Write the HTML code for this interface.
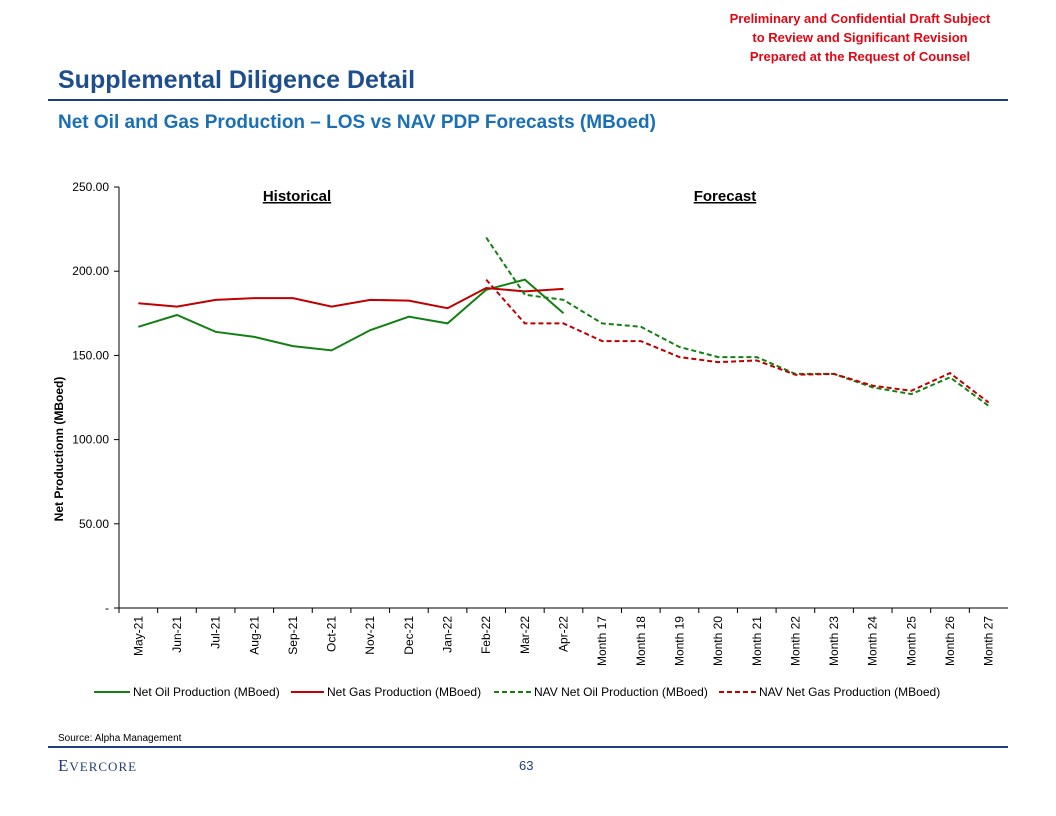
<!DOCTYPE html>
<html><head><meta charset="utf-8"><style>
body{margin:0;width:1056px;height:816px;background:#fff;font-family:"Liberation Sans",Arial,sans-serif;position:relative;overflow:hidden}
.conf{position:absolute;right:46px;top:9px;width:300px;text-align:center;color:#e30613;font-weight:bold;font-size:13px;line-height:19px}
.title{position:absolute;left:58px;top:66px;font-size:25px;font-weight:bold;color:#1f4e8c}
.sub{position:absolute;left:58px;top:112px;font-size:19px;font-weight:bold;color:#1a6fb5}
.rule{position:absolute;left:48px;width:960px;background:#1f3f7a}
</style></head><body>
<div class="conf">Preliminary and Confidential Draft Subject<br>to Review and Significant Revision<br>Prepared at the Request of Counsel</div>
<div class="title">Supplemental Diligence Detail</div>
<div class="rule" style="top:99px;height:2px"></div>
<div class="sub">Net Oil and Gas Production – LOS vs NAV PDP Forecasts (MBoed)</div>
<svg id="chart" width="1056" height="816" style="position:absolute;left:0;top:0"></svg>
<div style="position:absolute;left:58px;top:733px;font-size:10px">Source: Alpha Management</div>
<div class="rule" style="top:746px;height:2px"></div>
<div style="position:absolute;left:58px;top:756px;font-family:'Liberation Serif',serif;font-size:17px;color:#1f3f7a;letter-spacing:1px">E<span style="font-size:13px">VERCORE</span></div>
<div style="position:absolute;left:519px;top:758px;font-size:13px;color:#1f3f7a">63</div>
<script>
const categories=["May-21","Jun-21","Jul-21","Aug-21","Sep-21","Oct-21","Nov-21","Dec-21","Jan-22","Feb-22","Mar-22","Apr-22","Month 17","Month 18","Month 19","Month 20","Month 21","Month 22","Month 23","Month 24","Month 25","Month 26","Month 27"];
const oil=[167,174,164,161,155.5,153,165,173,169,189,195,175];
const gas=[181,179,183,184,184,179,183,182.5,178,190,188,189.5];
const navOil=[null,null,null,null,null,null,null,null,null,220,186,183,169,167,155,149,149,139,139,131,127,137,120];
const navGas=[null,null,null,null,null,null,null,null,null,195,169,169,158.5,158.5,149,146,147,138.5,139,132,129,139.5,122];
const yTicks=[0,50,100,150,200,250];
const yTickLabels=["-","50.00","100.00","150.00","200.00","250.00"];
const seriesNames=["Net Oil Production (MBoed)","Net Gas Production (MBoed)","NAV Net Oil Production (MBoed)","NAV Net Gas Production (MBoed)"];
const NS="http://www.w3.org/2000/svg",svg=document.getElementById('chart');
const L=119,R=1008,T=187,B=608,bw=(R-L)/categories.length;
const x=i=>L+bw*(i+0.5), y=v=>B-(v/250)*(B-T);
function mk(t,a,p){const e=document.createElementNS(NS,t);for(const k in a)e.setAttribute(k,a[k]);(p||svg).appendChild(e);return e;}
let e=mk('line',{x1:L,y1:T,x2:L,y2:B,stroke:'#000'});

e=mk('line',{x1:L,y1:B,x2:R,y2:B,stroke:'#000'});

yTicks.forEach((v,i)=>{mk('line',{x1:L-5,y1:y(v),x2:L,y2:y(v),stroke:'#000'});
 const t=mk('text',{x:L-10,y:y(v)+4,'text-anchor':'end','font-size':12});t.textContent=yTickLabels[i];
 });
categories.forEach((c,i)=>{mk('line',{x1:L+bw*i,y1:B,x2:L+bw*i,y2:B+5,stroke:'#000'});
 const t=mk('text',{x:0,y:0,'text-anchor':'end','font-size':12,transform:`translate(${x(i)+4},${B+8}) rotate(-90)`});t.textContent=c;
 });
e=mk('text',{x:0,y:0,'text-anchor':'middle','font-size':12,'font-weight':'bold',transform:`translate(63,449) rotate(-90)`});e.textContent="Net Productionn (MBoed)";

e=mk('text',{x:297,y:201,'text-anchor':'middle','font-size':15,'font-weight':'bold','text-decoration':'underline'});e.textContent="Historical";

e=mk('text',{x:725,y:201,'text-anchor':'middle','font-size':15,'font-weight':'bold','text-decoration':'underline'});e.textContent="Forecast";

function path(arr){let d='';arr.forEach((v,i)=>{if(v==null)return;d+=(d?'L':'M')+x(i)+','+y(v);});return d;}
const styles=[[oil,'#138013',''],[gas,'#c00000',''],[navOil,'#138013','5,3'],[navGas,'#c00000','5,3']];
const names=['oil-line','gas-line','nav-oil-line','nav-gas-line'];
styles.forEach((s,k)=>{const p=mk('path',{d:path(s[0]),fill:'none',stroke:s[1],'stroke-width':2,'stroke-dasharray':s[2]});
 });
const lx1=[94,291,494,719],lx2=[130,324,531,756];
seriesNames.forEach((n,k)=>{const g=mk('g',{});
 
 mk('line',{x1:lx1[k],y1:692,x2:lx2[k],y2:692,stroke:styles[k][1],'stroke-width':2,'stroke-dasharray':styles[k][2]},g);
 const t=mk('text',{x:lx2[k]+3,y:696,'font-size':12},g);t.textContent=n;});
</script>
</body></html>
